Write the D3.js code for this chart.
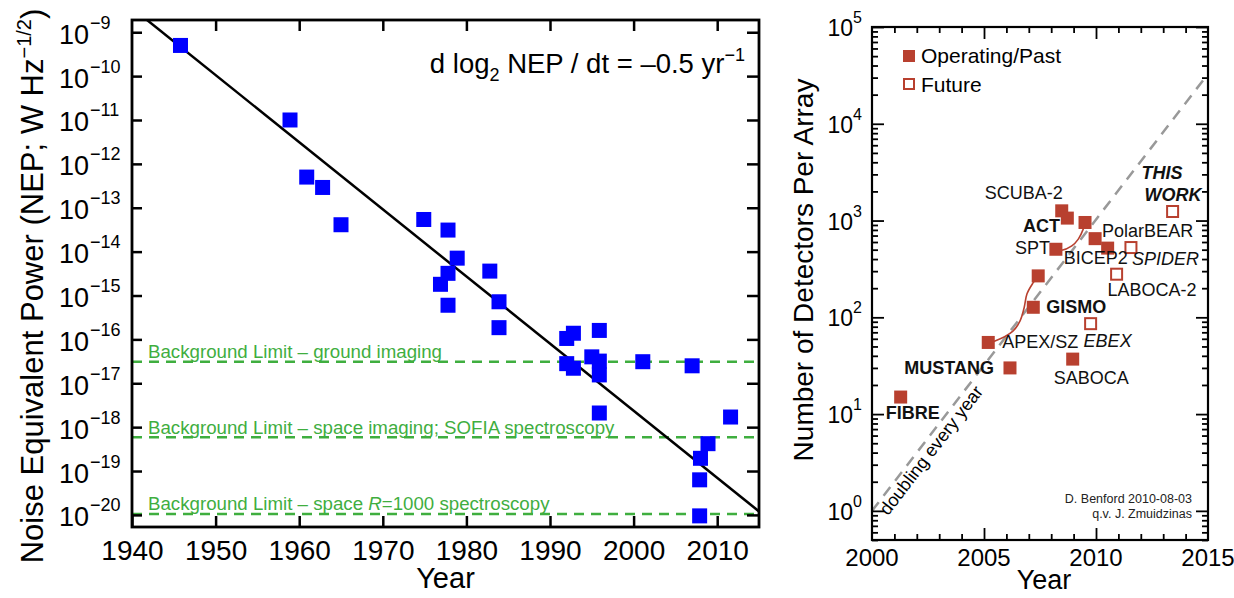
<!DOCTYPE html>
<html>
<head>
<meta charset="utf-8">
<script src="https://cdn.jsdelivr.net/npm/d3@7"></script>
<style>
  body { margin: 0; background: #fff; }
  svg { font-family: "Liberation Sans", Arial, Helvetica, sans-serif; }
</style>
</head>
<body>
<div id="container"></div>
<script>
/*** LEFT PANEL DATA: NEP vs year ***/
const nepYears = [1945.8, 1958.9, 1960.9, 1962.8, 1965.0, 1974.9, 1977.8, 1978.9, 1977.8, 1976.9,
  1977.8, 1982.8, 1983.9, 1983.9, 1992.0, 1992.8, 1995.9, 1992.0, 1992.8, 1995.0,
  1995.9, 1995.9, 1995.9, 2001.1, 2007.0, 2011.6, 2008.9, 2008.0, 2007.9, 2007.9];
const nepValues = [5e-10, 1e-11, 5e-13, 2.9e-13, 4.1e-14, 5.4e-14, 3.1e-14, 7.1e-15, 3.2e-15, 1.8e-15,
  6e-16, 3.6e-15, 7.2e-16, 1.85e-16, 1.05e-16, 1.38e-16, 1.6e-16, 2.8e-17, 2.2e-17, 4e-17,
  3.2e-17, 1.55e-17, 2.1e-18, 3.1e-17, 2.5e-17, 1.7e-18, 4.2e-19, 1.95e-19, 6.3e-20, 9.5e-21];
// trend line end points (d log2 NEP / dt = -0.5 / yr)
const fitYears = [1941.8, 2015];
const fitNEP = [1.9e-9, 1.2e-20];
const bgLimitNEP = [3.1e-17, 5.9e-19, 1.05e-20];
const bgLimitLabels = [
  ["Background Limit – ground imaging"],
  ["Background Limit – space imaging; SOFIA spectroscopy"],
  ["Background Limit – space ", "R", "=1000 spectroscopy"]
];
const yearTicksL = [1940, 1950, 1960, 1970, 1980, 1990, 2000, 2010];
const nepExponents = [-9, -10, -11, -12, -13, -14, -15, -16, -17, -18, -19, -20];

/*** RIGHT PANEL DATA: detectors per array ***/
const detNames = ["FIBRE", "APEX/SZ", "MUSTANG", "GISMO", "", "SPT", "SCUBA-2", "", "ACT",
  "PolarBEAR", "BICEP2", "SABOCA", "THIS WORK", "SPIDER", "LABOCA-2", "EBEX"];
const detYears = [2001.28, 2005.19, 2006.16, 2007.2, 2007.42, 2008.21, 2008.47, 2008.72, 2009.51,
  2009.96, 2010.52, 2008.96, 2013.42, 2011.56, 2010.92, 2009.76];
const detCounts = [15, 55, 30, 127, 268, 505, 1260, 1060, 955, 650, 519, 37, 1240, 526, 279, 86];
const detFuture = [false, false, false, false, false, false, false, false, false,
  false, false, false, true, true, true, true];
// evolution curves
const curveYears = [[2005.19, 2005.49, 2006.29, 2006.61, 2006.79, 2006.92, 2007.19, 2007.42],
  [2008.21, 2008.47, 2008.92, 2009.21, 2009.43, 2009.51]];
const curveCounts = [[55, 57, 72, 92, 125, 175, 227, 268],
  [505, 494, 547, 643, 815, 955]];
const doublingYears = [2000, 2015];
const doublingCounts = [1, 32768];
const yearTicksR = [2000, 2005, 2010, 2015];
const countExponents = [0, 1, 2, 3, 4, 5];

// label placement (pixels relative to marker)
const labelLayout = {
  "FIBRE": { dx: -15, dy: 22, anchor: "start", weight: "bold" },
  "APEX/SZ": { dx: 14, dy: 6, anchor: "start" },
  "MUSTANG": { dx: -16, dy: 6, anchor: "end", weight: "bold" },
  "GISMO": { dx: 13, dy: 6, anchor: "start", weight: "bold" },
  "SPT": { dx: -6, dy: 5, anchor: "end" },
  "SCUBA-2": { dx: 1, dy: -12, anchor: "end" },
  "ACT": { dx: -25, dy: 10, anchor: "end", weight: "bold" },
  "PolarBEAR": { dx: 7, dy: -2, anchor: "start" },
  "BICEP2": { dx: -44, dy: 16, anchor: "start" },
  "SPIDER": { dx: 1, dy: 17, anchor: "start", style: "italic" },
  "LABOCA-2": { dx: -9, dy: 22, anchor: "start" },
  "THIS WORK": { dx: -31, dy: -33, anchor: "start", weight: "bold", style: "italic" },
  "EBEX": { dx: -7, dy: 23, anchor: "start", style: "italic" },
  "SABOCA": { dx: -19, dy: 25, anchor: "start" }
};

const width = 1234, height = 598;
const green = "#3fae3f", redBrown = "#b8402f";

const svg = d3.select("#container").append("svg")
  .attr("width", width).attr("height", height);
svg.append("rect").attr("width", width).attr("height", height).attr("fill", "#fff");

/*** LEFT PANEL ***/
const L = { left: 132, right: 759, top: 20, bottom: 527 };
const xL = d3.scaleLinear().domain([1940, 2015]).range([L.left, L.right]);
const yL = d3.scaleLog().domain([5.3e-21, 1.9e-9]).range([L.bottom, L.top]);
const decadesL = nepExponents.map(e => Math.pow(10, e));

svg.append("clipPath").attr("id", "clipL").append("rect")
  .attr("x", L.left).attr("y", L.top).attr("width", L.right - L.left).attr("height", L.bottom - L.top);

const left = svg.append("g");

// background limits
left.selectAll("line.bg")
  .data(bgLimitNEP)
  .join("line")
  .attr("class", "bg")
  .attr("x1", L.left).attr("x2", L.right)
  .attr("y1", d => yL(d)).attr("y2", d => yL(d))
  .attr("stroke", green).attr("stroke-width", 2.5)
  .attr("stroke-dasharray", "10,7");

left.selectAll("text.bg")
  .data(bgLimitLabels)
  .join("text")
  .attr("class", "bg")
  .attr("x", L.left + 16)
  .attr("y", (d, i) => yL(bgLimitNEP[i]) - 3.5)
  .attr("fill", green)
  .attr("font-size", 18.7)
  .each(function (parts) {
    d3.select(this).selectAll("tspan").data(parts).join("tspan")
      .attr("font-style", (p, j) => j === 1 ? "italic" : null)
      .text(p => p);
  });

// trend line
left.append("path")
  .datum(fitYears.map((y, i) => [y, fitNEP[i]]))
  .attr("clip-path", "url(#clipL)")
  .attr("d", d3.line().x(d => xL(d[0])).y(d => yL(d[1])))
  .attr("stroke", "#000").attr("stroke-width", 2.5).attr("fill", "none");

// squares
const sqL = 15;
left.selectAll("rect.pt")
  .data(nepYears.map((y, i) => ({ year: y, nep: nepValues[i] })))
  .join("rect")
  .attr("class", "pt")
  .attr("x", d => xL(d.year) - sqL / 2)
  .attr("y", d => yL(d.nep) - sqL / 2)
  .attr("width", sqL).attr("height", sqL)
  .attr("fill", "#0000ff");

// axes (ticks inward)
function styleTicks(g, w) {
  g.select(".domain").remove();
  g.selectAll(".tick line").attr("stroke", "#000").attr("stroke-width", w);
}
left.append("g").attr("transform", `translate(0,${L.bottom})`)
  .call(d3.axisBottom(xL).tickValues(yearTicksL).tickSizeInner(-11).tickSizeOuter(0)
    .tickPadding(13).tickFormat(d3.format("d")))
  .call(g => styleTicks(g, 2.5))
  .call(g => g.selectAll("text").attr("font-size", 28).attr("fill", "#000")
    .attr("font-family", "Liberation Sans, Arial, sans-serif"));
left.append("g").attr("transform", `translate(0,${L.top})`)
  .call(d3.axisTop(xL).tickValues(yearTicksL.slice(1)).tickSizeInner(-11).tickSizeOuter(0).tickFormat(""))
  .call(g => styleTicks(g, 2.5));
left.append("g").attr("transform", `translate(${L.right},0)`)
  .call(d3.axisRight(yL).tickValues(decadesL).tickSizeInner(-12).tickSizeOuter(0).tickFormat(""))
  .call(g => styleTicks(g, 2.5));
const yAxL = left.append("g").attr("transform", `translate(${L.left},0)`)
  .call(d3.axisLeft(yL).tickValues(decadesL).tickSizeInner(-10).tickSizeOuter(0).tickFormat(""))
  .call(g => styleTicks(g, 2.5));
yAxL.selectAll(".tick").each(function (d, i) {
  const t = d3.select(this).append("text")
    .attr("x", -73).attr("y", 11)
    .attr("text-anchor", "start").attr("fill", "#000")
    .attr("font-size", 27).attr("font-family", "Liberation Sans, Arial, sans-serif");
  t.append("tspan").text("10");
  t.append("tspan").attr("dy", -15).attr("dx", 1).attr("font-size", 18)
    .text("\u2212" + Math.abs(nepExponents[i]));
});
left.append("rect")
  .attr("x", L.left).attr("y", L.top)
  .attr("width", L.right - L.left).attr("height", L.bottom - L.top)
  .attr("fill", "none").attr("stroke", "#000").attr("stroke-width", 2.8);

// annotation
const ann = left.append("text")
  .attr("x", 745).attr("y", 73).attr("text-anchor", "end")
  .attr("font-size", 27.5).attr("fill", "#000");
ann.append("tspan").text("d log");
ann.append("tspan").attr("dy", 8).attr("font-size", 18).text("2");
ann.append("tspan").attr("dy", -8).text(" NEP / dt = \u20130.5 yr");
ann.append("tspan").attr("dy", -12).attr("font-size", 18).text("\u22121");

// titles
left.append("text")
  .attr("x", (L.left + L.right) / 2).attr("y", 588)
  .attr("text-anchor", "middle").attr("font-size", 29).text("Year");
const yTitleL = left.append("text")
  .attr("transform", "translate(43,286) rotate(-90)")
  .attr("text-anchor", "middle").attr("font-size", 31);
yTitleL.append("tspan").text("Noise Equivalent Power (NEP; W Hz");
yTitleL.append("tspan").attr("dy", -12).attr("font-size", 20).text("\u22121/2");
yTitleL.append("tspan").attr("dy", 12).text(")");

/*** RIGHT PANEL ***/
const R = { left: 872, right: 1208, top: 27, bottom: 540 };
const xR = d3.scaleLinear().domain([2000, 2015]).range([R.left, R.right]);
const yR = d3.scaleLog().domain([0.5, 1e5]).range([R.bottom, R.top]);

svg.append("clipPath").attr("id", "clipR").append("rect")
  .attr("x", R.left).attr("y", R.top).attr("width", R.right - R.left).attr("height", R.bottom - R.top);

const right = svg.append("g");

// doubling every year
const dblLine = doublingYears.map((y, i) => [xR(y), yR(doublingCounts[i])]);
right.append("path")
  .datum(dblLine)
  .attr("clip-path", "url(#clipR)")
  .attr("d", d3.line())
  .attr("stroke", "#999").attr("stroke-width", 2.5)
  .attr("stroke-dasharray", "11,8").attr("fill", "none");
const ang = Math.atan2(dblLine[1][1] - dblLine[0][1], dblLine[1][0] - dblLine[0][0]) * 180 / Math.PI;
const nrm = [Math.sin(-ang * Math.PI / 180), Math.cos(-ang * Math.PI / 180)];
const p0 = [xR(2000.15), yR(Math.pow(2, 0.15))];
right.append("text")
  .attr("transform", `translate(${p0[0] + 16 * nrm[0]},${p0[1] + 16 * nrm[1]}) rotate(${ang})`)
  .attr("font-size", 18).attr("fill", "#000").text("doubling every year");

// evolution curves
right.selectAll("path.evo")
  .data(curveYears.map((ys, k) => ys.map((y, i) => [y, curveCounts[k][i]])))
  .join("path")
  .attr("class", "evo")
  .attr("d", d3.line().x(d => xR(d[0])).y(d => yR(d[1])).curve(d3.curveCatmullRom))
  .attr("stroke", redBrown).attr("stroke-width", 1.6).attr("fill", "none");

// markers
const sqR = 13;
const dets = detNames.map((n, i) => ({ name: n, year: detYears[i], count: detCounts[i], future: detFuture[i] }));
right.selectAll("rect.det")
  .data(dets)
  .join("rect")
  .attr("class", "det")
  .attr("x", d => xR(d.year) - (d.future ? sqR - 2 : sqR) / 2)
  .attr("y", d => yR(d.count) - (d.future ? sqR - 2 : sqR) / 2)
  .attr("width", d => d.future ? sqR - 2 : sqR)
  .attr("height", d => d.future ? sqR - 2 : sqR)
  .attr("fill", d => d.future ? "#fff" : redBrown)
  .attr("stroke", d => d.future ? redBrown : "none")
  .attr("stroke-width", 2);

// labels
right.selectAll("text.det")
  .data(dets.filter(d => d.name))
  .join("text")
  .attr("class", "det")
  .attr("x", d => xR(d.year) + labelLayout[d.name].dx)
  .attr("y", d => yR(d.count) + labelLayout[d.name].dy)
  .attr("text-anchor", d => labelLayout[d.name].anchor)
  .attr("font-weight", d => labelLayout[d.name].weight || null)
  .attr("font-style", d => labelLayout[d.name].style || null)
  .attr("font-size", 18).attr("fill", "#111")
  .each(function (d) {
    const words = d.name === "THIS WORK" ? ["THIS", "WORK"] : [d.name];
    d3.select(this).selectAll("tspan").data(words).join("tspan")
      .attr("x", (w, j) => xR(d.year) + labelLayout[d.name].dx + (j ? 3 : 0))
      .attr("dy", (w, j) => j ? 22 : 0)
      .text(w => w);
  });

// minor/major ticks
const majorR = countExponents.map(e => Math.pow(10, e));
const minorR = [];
for (let e = -1; e <= 4; e++) for (let k = 2; k <= 9; k++) {
  const v = k * Math.pow(10, e);
  if (v >= 0.5 && v <= 1e5) minorR.push(v);
}
const yrMinor = d3.range(2001, 2015).filter(y => y % 5 !== 0);
const yrMajor = [2005, 2010];
function tickSet(axisFn, scale, vals, size, pos) {
  right.append("g").attr("transform", pos)
    .call(axisFn(scale).tickValues(vals).tickSizeInner(-size).tickSizeOuter(0).tickFormat(""))
    .call(g => styleTicks(g, 1.8));
}
tickSet(d3.axisLeft, yR, minorR, 6, `translate(${R.left},0)`);
tickSet(d3.axisLeft, yR, majorR, 12, `translate(${R.left},0)`);
tickSet(d3.axisRight, yR, minorR, 6, `translate(${R.right},0)`);
tickSet(d3.axisRight, yR, majorR, 12, `translate(${R.right},0)`);
tickSet(d3.axisBottom, xR, yrMinor, 6, `translate(0,${R.bottom})`);
tickSet(d3.axisBottom, xR, yrMajor, 12, `translate(0,${R.bottom})`);
tickSet(d3.axisTop, xR, yrMinor, 6, `translate(0,${R.top})`);
tickSet(d3.axisTop, xR, yrMajor, 12, `translate(0,${R.top})`);

right.append("rect")
  .attr("x", R.left).attr("y", R.top)
  .attr("width", R.right - R.left).attr("height", R.bottom - R.top)
  .attr("fill", "none").attr("stroke", "#000").attr("stroke-width", 2.2);

// tick labels
right.selectAll("text.xl")
  .data(yearTicksR)
  .join("text").attr("class", "xl")
  .attr("x", d => xR(d)).attr("y", 566)
  .attr("text-anchor", "middle").attr("font-size", 24).text(d => d);
right.selectAll("text.yl")
  .data(countExponents)
  .join("text").attr("class", "yl")
  .attr("x", 862).attr("y", d => yR(Math.pow(10, d)) + 9)
  .attr("text-anchor", "end").attr("font-size", 23)
  .each(function (d) {
    const t = d3.select(this);
    t.append("tspan").text("10");
    t.append("tspan").attr("dy", -13).attr("font-size", 16).text(d);
  });

// legend
right.append("rect").attr("x", 903).attr("y", 50).attr("width", 12).attr("height", 12).attr("fill", redBrown);
right.append("rect").attr("x", 904).attr("y", 79).attr("width", 10).attr("height", 10)
  .attr("fill", "#fff").attr("stroke", redBrown).attr("stroke-width", 2);
right.append("text").attr("x", 921).attr("y", 63).attr("font-size", 21).text("Operating/Past");
right.append("text").attr("x", 921).attr("y", 92).attr("font-size", 21).text("Future");

// credit
right.selectAll("text.credit")
  .data(["D. Benford 2010-08-03", "q.v. J. Zmuidzinas"])
  .join("text").attr("class", "credit")
  .attr("x", 1192).attr("y", (d, i) => 503 + i * 14.5)
  .attr("text-anchor", "end").attr("font-size", 12.5).attr("fill", "#222").text(d => d);

// titles
right.append("text")
  .attr("x", (R.left + R.right) / 2 + 4).attr("y", 589)
  .attr("text-anchor", "middle").attr("font-size", 27).text("Year");
right.append("text")
  .attr("transform", "translate(813,270) rotate(-90)")
  .attr("text-anchor", "middle").attr("font-size", 28).text("Number of Detectors Per Array");
</script>
</body>
</html>
